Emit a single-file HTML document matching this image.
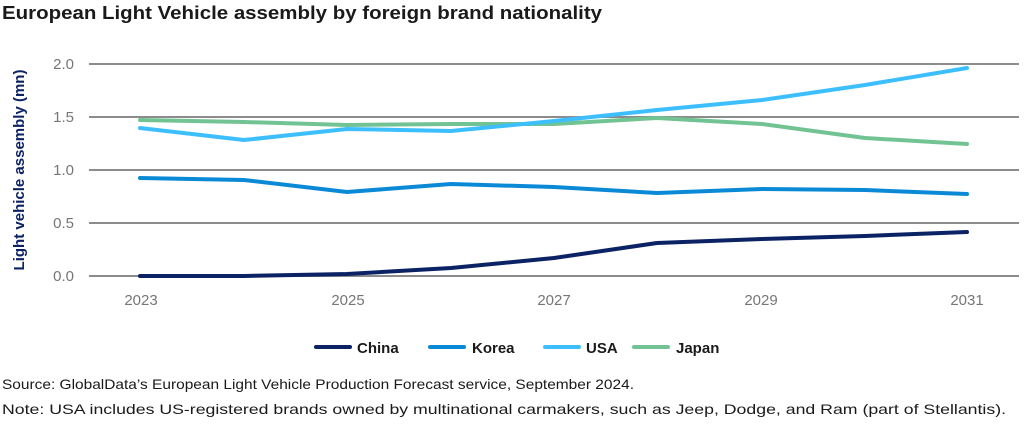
<!DOCTYPE html>
<html><head><meta charset="utf-8"><style>
body{margin:0;background:#fff;width:1024px;height:426px;overflow:hidden;font-family:"Liberation Sans",sans-serif}
</style></head><body>
<svg width="1024" height="426" xmlns="http://www.w3.org/2000/svg" font-family="Liberation Sans, sans-serif">
<text x="2" y="19" font-size="18" font-weight="bold" fill="#1a1a1a" textLength="600" lengthAdjust="spacingAndGlyphs">European Light Vehicle assembly by foreign brand nationality</text>
<g stroke="#8c8c8c" stroke-width="2">
<line x1="89" x2="1019" y1="64" y2="64"/><line x1="89" x2="1019" y1="117" y2="117"/>
<line x1="89" x2="1019" y1="170" y2="170"/><line x1="89" x2="1019" y1="223" y2="223"/>
<line x1="89" x2="1019" y1="276" y2="276"/></g>
<g font-size="15" fill="#767676" text-anchor="end">
<text x="74" y="69">2.0</text><text x="74" y="122">1.5</text><text x="74" y="175">1.0</text><text x="74" y="228">0.5</text><text x="74" y="281">0.0</text></g>
<g font-size="15" fill="#767676" text-anchor="middle">
<text x="141" y="305">2023</text><text x="348" y="305">2025</text><text x="554" y="305">2027</text><text x="761" y="305">2029</text><text x="967" y="305">2031</text></g>
<text transform="translate(24,170) rotate(-90)" font-size="15" font-weight="bold" fill="#0b2265" text-anchor="middle">Light vehicle assembly (mn)</text>
<g fill="none" stroke-width="4" stroke-linecap="round" stroke-linejoin="round">
<polyline stroke="#72c393" points="140,120 244,122 347,125 451,124 554,124 657,118 762,124 865,138 967,144"/>
<polyline stroke="#3dbfff" points="140,128 244,140 347,129 451,131 554,121 657,110 762,100 865,85 967,68"/>
<polyline stroke="#0a8ad6" points="140,178 244,180 347,192 451,184 554,187 657,193 762,189 865,190 967,194"/>
<polyline stroke="#0b2265" points="140,276 244,276 347,274 451,268 554,258 657,243 762,239 865,236 967,232"/>
</g>
<g stroke-width="4" stroke-linecap="round">
<line x1="316" x2="350" y1="347" y2="347" stroke="#0b2265"/>
<line x1="430" x2="464" y1="347" y2="347" stroke="#0a8ad6"/>
<line x1="545" x2="579" y1="347" y2="347" stroke="#3dbfff"/>
<line x1="634" x2="668" y1="347" y2="347" stroke="#72c393"/></g>
<g font-size="15" font-weight="bold" fill="#1a1a1a">
<text x="357" y="353">China</text><text x="472" y="353">Korea</text><text x="586" y="353">USA</text><text x="676" y="353">Japan</text></g>
<g font-size="14" fill="#1a1a1a">
<text x="2" y="389" textLength="632" lengthAdjust="spacingAndGlyphs">Source: GlobalData’s European Light Vehicle Production Forecast service, September 2024.</text>
<text x="2" y="414" textLength="1004" lengthAdjust="spacingAndGlyphs">Note: USA includes US-registered brands owned by multinational carmakers, such as Jeep, Dodge, and Ram (part of Stellantis).</text></g>
</svg>
</body></html>
